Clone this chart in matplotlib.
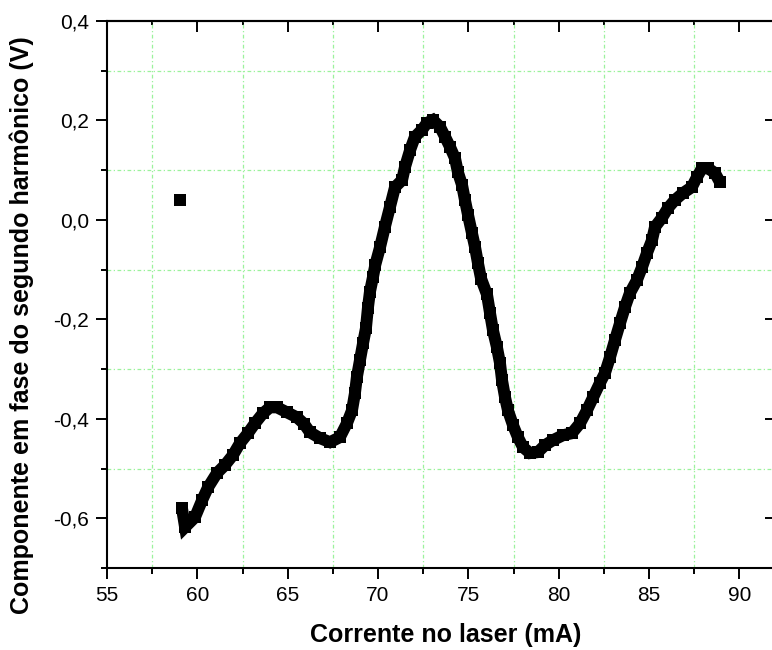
import matplotlib
matplotlib.use('Agg')
import matplotlib.pyplot as plt
from matplotlib.ticker import MultipleLocator, FuncFormatter

plt.rcParams['font.family'] = ['Liberation Sans', 'DejaVu Sans']
plt.rcParams['axes.unicode_minus'] = False

# corrente no laser (mA) - primeiro ponto e o ponto isolado
corrente = [59.04, 59.15, 59.32, 59.87, 60.26, 60.59, 61.09, 61.53, 61.97, 62.36,
            62.80, 63.19, 63.63, 64.02, 64.41, 64.96, 65.51, 65.90, 66.23, 66.79,
            67.34, 67.89, 68.28, 68.56, 68.72, 68.83, 69.00, 69.17, 69.33, 69.44,
            69.55, 69.72, 69.85, 70.11, 70.38, 70.66, 70.94, 71.33, 71.49, 71.77,
            72.04, 72.43, 72.71, 73.04, 73.43, 73.71, 73.98, 74.26, 74.42, 74.65,
            74.81, 74.98, 75.20, 75.37, 75.53, 75.70, 76.03, 76.20, 76.36, 76.58,
            76.75, 76.86, 77.03, 77.19, 77.47, 77.74, 78.02, 78.41, 78.85, 79.24,
            79.68, 80.24, 80.73, 81.18, 81.56, 81.90, 82.28, 82.56, 82.84, 83.11,
            83.39, 83.67, 83.94, 84.33, 84.61, 84.88, 85.16, 85.33, 85.71, 86.05,
            86.43, 86.88, 87.37, 87.65, 87.93, 88.26, 88.65, 88.92]
# componente em fase do segundo harmonico (V)
sinal = [0.040, -0.580, -0.618, -0.598, -0.564, -0.538, -0.509, -0.493, -0.473, -0.449,
         -0.429, -0.409, -0.389, -0.377, -0.377, -0.387, -0.397, -0.410, -0.427, -0.439,
         -0.447, -0.437, -0.409, -0.383, -0.349, -0.316, -0.282, -0.248, -0.218, -0.177,
         -0.145, -0.115, -0.090, -0.055, -0.014, 0.026, 0.066, 0.080, 0.106, 0.140,
         0.167, 0.181, 0.195, 0.201, 0.187, 0.167, 0.147, 0.124, 0.096, 0.070,
         0.040, 0.010, -0.027, -0.055, -0.087, -0.118, -0.150, -0.188, -0.222, -0.256,
         -0.288, -0.322, -0.357, -0.383, -0.413, -0.437, -0.457, -0.469, -0.467, -0.453,
         -0.443, -0.433, -0.429, -0.409, -0.383, -0.357, -0.328, -0.308, -0.276, -0.242,
         -0.208, -0.175, -0.147, -0.121, -0.095, -0.067, -0.041, -0.014, 0.004, 0.024,
         0.040, 0.054, 0.066, 0.086, 0.104, 0.104, 0.094, 0.076]

fig = plt.figure(figsize=(7.72, 6.5), dpi=100)
ax = fig.add_axes([0.1386, 0.1262, 0.866, 0.8415])

# pontos (quadrados pretos) + traco grosso para ficar continuo como no original
ax.plot(corrente[1:], sinal[1:], color='black', lw=8.6, solid_joinstyle='miter',
        solid_capstyle='butt', zorder=3)
ax.plot(corrente, sinal, 's', color='black', ms=8.4, mew=0, zorder=4)

ax.set_xlim(55, 92)
ax.set_ylim(-0.7, 0.4)

ax.xaxis.set_major_locator(MultipleLocator(5))
ax.xaxis.set_minor_locator(MultipleLocator(2.5))
ax.yaxis.set_major_locator(MultipleLocator(0.2))
ax.yaxis.set_minor_locator(MultipleLocator(0.1))
ax.xaxis.set_major_formatter(FuncFormatter(lambda v, p: '%d' % round(v)))
ax.yaxis.set_major_formatter(FuncFormatter(lambda v, p: ('%.1f' % v).replace('.', ',').replace('-0,0', '0,0')))

ax.grid(which='minor', color='#9cf29c', lw=0.9, linestyle=(0, (3, 2, 1, 2)))
ax.grid(which='major', visible=False)

ax.tick_params(which='major', direction='out', length=8, width=1.4, labelsize=15, pad=5)
ax.tick_params(which='minor', direction='out', length=4.5, width=1.4)

for s in ['left', 'bottom', 'top', 'right']:
    ax.spines[s].set_linewidth(1.5)

# eixos de cima e da direita com ticks para dentro
top = ax.secondary_xaxis('top')
top.xaxis.set_major_locator(MultipleLocator(5))
top.xaxis.set_minor_locator(MultipleLocator(2.5))
top.tick_params(which='major', direction='in', length=8, width=1.4, labeltop=False)
top.tick_params(which='minor', direction='in', length=3, width=1.4)
top.spines['top'].set_linewidth(1.5)

right = ax.secondary_yaxis('right')
right.yaxis.set_major_locator(MultipleLocator(0.2))
right.yaxis.set_minor_locator(MultipleLocator(0.1))
right.tick_params(which='major', direction='in', length=8, width=1.4, labelright=False)
right.tick_params(which='minor', direction='in', length=3, width=1.4)

ax.set_xlabel('Corrente no laser (mA)', fontsize=18, fontweight='bold')
ax.set_ylabel('Componente em fase do segundo harmônico (V)', fontsize=18, fontweight='bold')
ax.xaxis.set_label_coords(0.506, -0.1225)
ax.yaxis.set_label_coords(-0.127, 0.444)
ax.xaxis.label.set_verticalalignment('center')
ax.yaxis.label.set_verticalalignment('center')

plt.savefig('out.png', dpi=100)
print('out.png salvo')
